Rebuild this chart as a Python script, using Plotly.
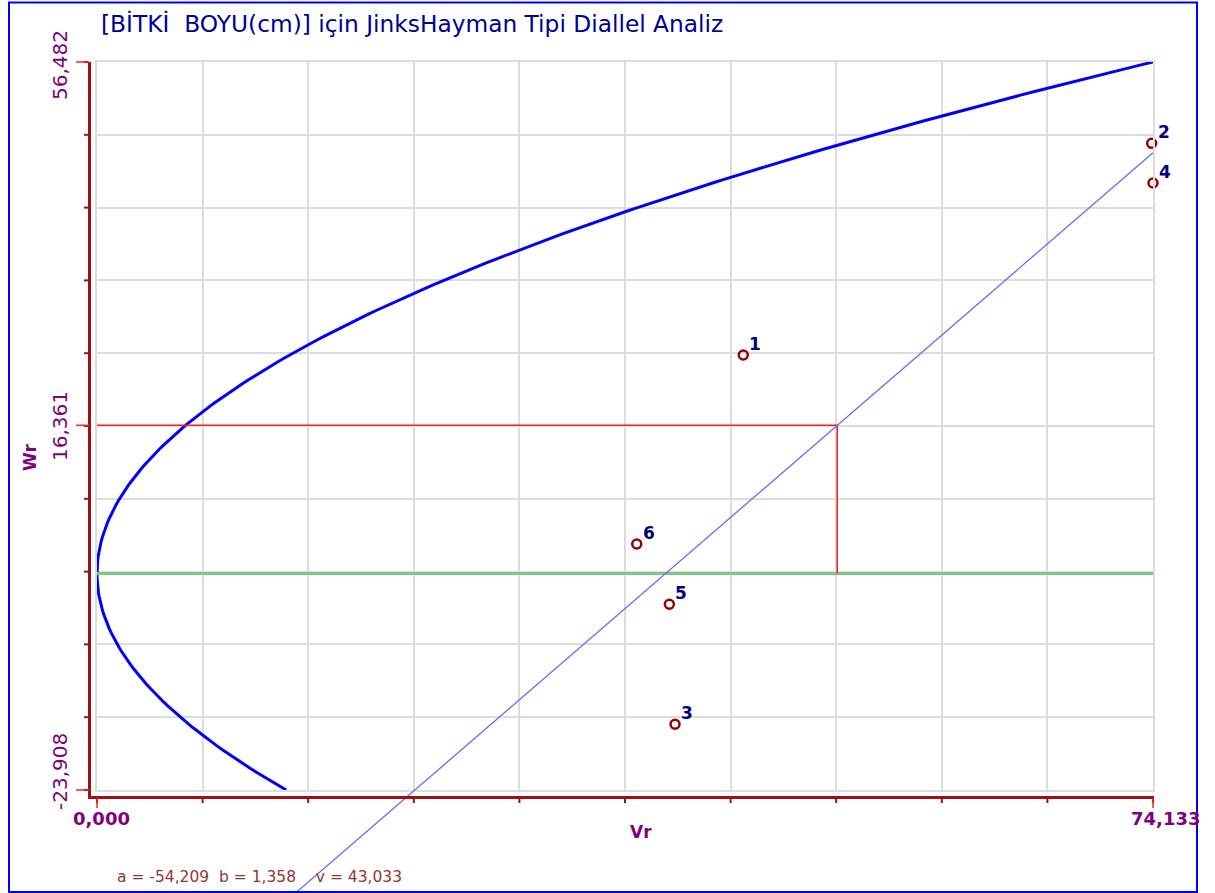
import plotly.graph_objects as go

# ---- data ----
labels = ["1", "2", "3", "4", "5", "6"]
vr = [45.37, 74.04, 40.58, 74.133, 40.18, 37.89]
wr = [24.13, 47.50, -16.65, 43.12, -3.40, 3.26]

a_coef = -54.209
b_coef = 1.358
v_p = 43.033
x_min, x_max = 0.0, 74.133
y_min, y_max = -23.908, 56.482
y_mid = 16.361
x_tick_text = ["0,000", "74,133"]
y_tick_text = ["56,482", "16,361", "-23,908"]
title_text = "[BİTKİ  BOYU(cm)] için JinksHayman Tipi Diallel Analiz"
stats_text = "a = -54,209  b = 1,358    v = 43,033"

W, H = 1215, 893
L, R, T, B = 97, 62, 62, 103
PW, PH = W - L - R, H - T - B

def xd(px):
    return (px - L) / PW

def yd(py):
    return (H - B - py) / PH

def dx(x):
    return (x - x_min) / (x_max - x_min)

def dy(y):
    return (y - y_min) / (y_max - y_min)

fig = go.Figure()

# parabola Wr^2 = Vr * Vp
n = 200
wr_curve = [y_min + (y_max - y_min) * i / (n - 1) for i in range(n)]
vr_curve = [w * w / v_p for w in wr_curve]
fig.add_trace(go.Scatter(x=vr_curve, y=wr_curve, mode="lines",
                         line=dict(color="#0000FF", width=3), hoverinfo="skip"))

# green Wr=0 line
fig.add_trace(go.Scatter(x=[x_min, x_max], y=[0, 0], mode="lines",
                         line=dict(color="#7FC87F", width=3), hoverinfo="skip"))

# red guide lines
x_star = (y_mid - a_coef) / b_coef
fig.add_trace(go.Scatter(x=[x_min, x_star, x_star], y=[y_mid, y_mid, 0], mode="lines",
                         line=dict(color="#FF2020", width=1.5), hoverinfo="skip"))

# points
fig.add_trace(go.Scatter(x=vr, y=wr, mode="markers",
                         marker=dict(symbol="circle-open", size=9, color="#990000",
                                     line=dict(width=2.5, color="#990000")),
                         cliponaxis=False, hoverinfo="skip"))

shapes = []
# regression line (extends below the plot area, unclipped via domain refs)
y_bottom_data = y_min + yd(H) * (y_max - y_min)
x_start = (y_bottom_data - a_coef) / b_coef
y_end = a_coef + b_coef * x_max
shapes.append(dict(type="line", xref="x domain", yref="y domain",
                   x0=dx(x_start), y0=dy(y_bottom_data), x1=dx(x_max), y1=dy(y_end),
                   line=dict(color="#6A6AFF", width=1.3), layer="above"))

axis_col = "#A01010"
# left axis line (offset)
shapes.append(dict(type="line", xref="x domain", yref="y domain",
                   x0=xd(89.5), y0=yd(62), x1=xd(89.5), y1=yd(798),
                   line=dict(color=axis_col, width=3)))
# bottom axis line
shapes.append(dict(type="line", xref="x domain", yref="y domain",
                   x0=xd(88), y0=yd(797.5), x1=xd(1154), y1=yd(797.5),
                   line=dict(color=axis_col, width=3)))
# small ticks
for i in range(11):
    f = i / 10
    shapes.append(dict(type="line", xref="x domain", yref="y domain",
                       x0=f, y0=yd(799), x1=f, y1=yd(803),
                       line=dict(color=axis_col, width=2)))
    shapes.append(dict(type="line", xref="x domain", yref="y domain",
                       x0=xd(84), y0=f, x1=xd(88), y1=f,
                       line=dict(color=axis_col, width=2)))
# red long ticks at labelled values
for f in [0, 1]:
    shapes.append(dict(type="line", xref="x domain", yref="y domain",
                       x0=f, y0=yd(798), x1=f, y1=yd(808),
                       line=dict(color="#FF2020", width=1.5)))
for f in [dy(y_max), dy(y_mid), dy(y_min)]:
    shapes.append(dict(type="line", xref="x domain", yref="y domain",
                       x0=xd(76), y0=f, x1=xd(89), y1=f,
                       line=dict(color="#FF2020", width=1.5)))
# outer blue frame
shapes.append(dict(type="rect", xref="x domain", yref="y domain",
                   x0=xd(9), y0=yd(892), x1=xd(1197), y1=yd(2.5),
                   line=dict(color="#0000FF", width=2), fillcolor="rgba(0,0,0,0)"))

ann = []
# point labels
for lab, xv, yv in zip(labels, vr, wr):
    ann.append(dict(xref="x", yref="y", x=xv, y=yv, text=lab, showarrow=False,
                    xanchor="center", yanchor="middle", xshift=12, yshift=11,
                    font=dict(family="DejaVu Sans", size=17, color="#000080", weight="bold")))

lab_font = dict(family="DejaVu Sans", size=20, color="#800080")
# x labels
ann.append(dict(xref="x domain", yref="y domain", x=xd(101), y=yd(818), text=x_tick_text[0],
                showarrow=False, xanchor="center", yanchor="middle",
                font=dict(lab_font, size=18, weight="bold")))
ann.append(dict(xref="x domain", yref="y domain", x=xd(1129), y=yd(818), text=x_tick_text[1],
                showarrow=False, xanchor="left", yanchor="middle",
                font=dict(lab_font, size=18, weight="bold")))
# y labels (rotated)
ann.append(dict(xref="x domain", yref="y domain", x=xd(60), y=yd(65), text=y_tick_text[0],
                showarrow=False, textangle=-90, xanchor="center", yanchor="middle", font=lab_font))
ann.append(dict(xref="x domain", yref="y domain", x=xd(60), y=yd(426), text=y_tick_text[1],
                showarrow=False, textangle=-90, xanchor="center", yanchor="middle", font=lab_font))
ann.append(dict(xref="x domain", yref="y domain", x=xd(60), y=yd(772), text=y_tick_text[2],
                showarrow=False, textangle=-90, xanchor="center", yanchor="middle", font=lab_font))
# axis titles
ann.append(dict(xref="x domain", yref="y domain", x=xd(30), y=yd(458), text="Wr",
                showarrow=False, textangle=-90, xanchor="center", yanchor="middle",
                font=dict(family="DejaVu Sans", size=17, color="#800080", weight="bold")))
ann.append(dict(xref="x domain", yref="y domain", x=xd(641), y=yd(832), text="Vr",
                showarrow=False, xanchor="center", yanchor="middle",
                font=dict(family="DejaVu Sans", size=17, color="#800080", weight="bold")))
# title
ann.append(dict(xref="x domain", yref="y domain", x=xd(99), y=yd(24), text=title_text,
                showarrow=False, xanchor="left", yanchor="middle",
                font=dict(family="DejaVu Sans", size=23.3, color="#000099")))
# stats
ann.append(dict(xref="x domain", yref="y domain", x=xd(115), y=yd(877), text=stats_text,
                showarrow=False, xanchor="left", yanchor="middle",
                font=dict(family="DejaVu Sans", size=15.5, color="#993333")))

grid_vals_x = [x_min + (x_max - x_min) * i / 10 for i in range(11)]
grid_vals_y = [y_min + (y_max - y_min) * i / 10 for i in range(11)]

fig.update_layout(
    width=W, height=H,
    margin=dict(l=L, r=R, t=T, b=B),
    paper_bgcolor="white", plot_bgcolor="white",
    showlegend=False,
    shapes=shapes, annotations=ann,
    xaxis=dict(range=[x_min, x_max], tickvals=grid_vals_x, showticklabels=False,
               showgrid=True, gridcolor="#DCDCDC", gridwidth=2, zeroline=False,
               showline=True, linecolor="#DCDCDC", linewidth=2, mirror=True, ticks=""),
    yaxis=dict(range=[y_min, y_max], tickvals=grid_vals_y, showticklabels=False,
               showgrid=True, gridcolor="#DCDCDC", gridwidth=2, zeroline=False,
               showline=True, linecolor="#DCDCDC", linewidth=2, mirror=True, ticks=""),
)

fig.write_html("out.html", config={"displayModeBar": False},
               post_script="document.body.style.margin='0';document.body.style.overflow='hidden';")
